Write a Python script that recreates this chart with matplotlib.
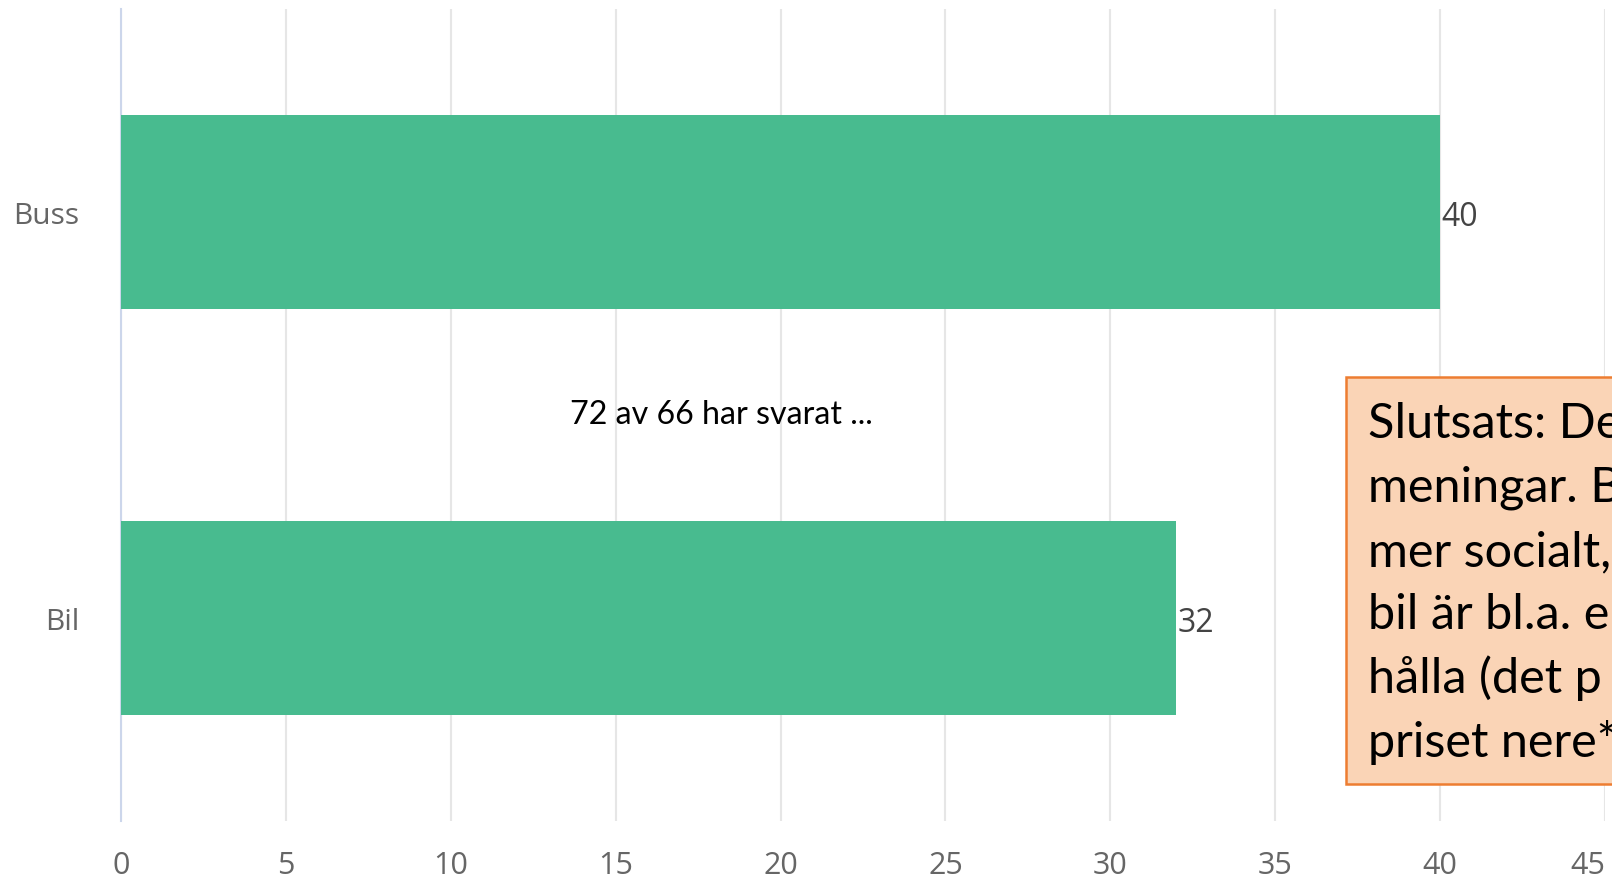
import matplotlib
matplotlib.use("Agg")
import matplotlib.pyplot as plt
from matplotlib.patches import Rectangle

categories = ["Buss", "Bil"]
values = [40, 32]
xticks = [0, 5, 10, 15, 20, 25, 30, 35, 40, 45]
subtitle = "72 av 66 har svarat ..."
box_lines = ["Slutsats: De", "meningar. B", "mer socialt,", "bil är bl.a. e",
             "hålla (det p", "priset nere*"]

W, H = 1612, 879
fig = plt.figure(figsize=(W / 100, H / 100), dpi=100)
ax = fig.add_axes([121 / W, 1 - 822 / H, (1605 - 121) / W, (822 - 10) / H])

ypos = list(range(len(categories)))
bars = ax.barh(ypos, values, height=0.48, color="#48BB8F", zorder=3)
ax.set_ylim(1.5, -0.5)
ax.set_xlim(0, 45)
ax.set_xticks(xticks)
ax.set_xticklabels([str(t) for t in xticks], fontsize=22, color="#666666",
                   fontfamily="Open Sans")
ax.tick_params(axis="x", length=0, pad=21)
ax.set_yticks(ypos)
ax.set_yticklabels(categories, fontsize=21.5, color="#666666", fontfamily="Open Sans")
ax.tick_params(axis="y", length=0, pad=30)
labs = ax.get_xticklabels()
labs[-1].set_horizontalalignment("right")

ax.grid(axis="x", color="#e6e6e6", linewidth=1.5, zorder=0)
for s in ["top", "right", "bottom"]:
    ax.spines[s].set_visible(False)
ax.spines["left"].set_color("#ccd6eb")
ax.spines["left"].set_linewidth(1.5)

for b, v in zip(bars, values):
    ax.text(b.get_width() + 0.04, b.get_y() + b.get_height() / 2, str(v),
            va="center_baseline", ha="left", fontsize=23, color="#444444",
            fontfamily="Open Sans", zorder=4)

fig.text(721 / W, 1 - 415 / H, subtitle, ha="center", va="center",
         fontsize=23.2, color="#000000", fontfamily="Lato")

fig.patches.append(Rectangle((1346 / W, 1 - 785 / H), (1700 - 1346) / W, (785 - 378) / H,
                             transform=fig.transFigure, facecolor="#FAD4B6",
                             edgecolor="#ED7D31", linewidth=1.8, zorder=5))
baselines = [438, 502, 566, 629, 693, 757]
for line, yb in zip(box_lines, baselines):
    fig.text(1368 / W, 1 - yb / H, line, ha="left", va="baseline",
             fontsize=35, color="#000000", fontfamily="Lato", zorder=6)

fig.savefig("out.png", dpi=100)
